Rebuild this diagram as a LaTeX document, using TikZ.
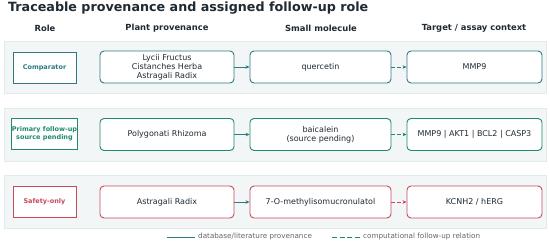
\documentclass[tikz,border=0pt]{standalone}
\usepackage{fontspec}
\setmainfont{DejaVu Sans}
\usetikzlibrary{arrows.meta}
\definecolor{teal1}{HTML}{2E7A84}
\definecolor{green1}{HTML}{1F8A6C}
\definecolor{red1}{HTML}{C64A5C}
\definecolor{band}{HTML}{F2F6F7}
\definecolor{bandline}{HTML}{E2EAEC}
\definecolor{ink}{HTML}{1F2A33}
\tikzset{
  bandbox/.style={fill=band,draw=bandline,line width=0.5pt},
  rolebox/.style={draw=#1,fill=white,line width=0.9pt,minimum width=63pt,minimum height=31pt,inner sep=0pt,align=center,font=\fontsize{6.5}{7.6}\selectfont\bfseries,text=#1},
  itembox/.style={draw=#1,fill=white,line width=0.9pt,rounded corners=4pt,minimum height=32pt,inner sep=0pt,align=center,font=\fontsize{8}{8.8}\selectfont,text=ink},
  hdr/.style={font=\fontsize{8.4}{9.5}\selectfont\bfseries,text=ink},
  prov/.style={draw=teal1,line width=0.9pt,-{Stealth[length=4pt,width=3.5pt]}},
  comp/.style={draw=#1,line width=0.9pt,dash pattern=on 4pt off 2pt,-{Stealth[length=4pt,width=3.5pt]}},
  legtext/.style={font=\fontsize{7.2}{8.2}\selectfont,text=gray!80!black,anchor=west,inner sep=0pt}
}
\begin{document}
\begin{tikzpicture}[x=1pt,y=-1pt]
\useasboundingbox[fill=white] (0,0) rectangle (550,245);
\node[anchor=west,inner sep=0pt,font=\fontsize{12.7}{15}\selectfont\bfseries,text=ink] (title) at (8,8.5) {Traceable provenance and assigned follow-up role};
\node[hdr] (h1) at (45,28) {Role};
\node[hdr] (h2) at (167,28) {Plant provenance};
\node[hdr] (h3) at (321,28) {Small molecule};
\node[hdr] (h4) at (474,28) {Target / assay context};
% bands
\draw[bandbox] (4,41) rectangle (546,93);
\draw[bandbox] (4,108) rectangle (546,161);
\draw[bandbox] (4,175) rectangle (546,228);
% row 1
\node[rolebox=teal1] (r1) at (44.5,67.5) {Comparator};
\node[itembox=teal1,minimum width=134pt] (p1) at (167,67) {Lycii Fructus\\Cistanches Herba\\Astragali Radix};
\node[itembox=teal1,minimum width=141pt] (m1) at (320.5,67) {quercetin};
\node[itembox=teal1,minimum width=135pt] (t1) at (474.5,67) {MMP9};
\draw[prov] (p1) -- (m1);
\draw[comp=teal1] (m1) -- (t1);
% row 2
\node[rolebox=green1] (r2) at (44.5,134) {Primary follow-up\\source pending};
\node[itembox=green1,minimum width=134pt] (p2) at (167,134.5) {Polygonati Rhizoma};
\node[itembox=green1,minimum width=141pt] (m2) at (320.5,134.5) {baicalein\\(source pending)};
\node[itembox=green1,minimum width=135pt] (t2) at (474.5,134.5) {MMP9 | AKT1 | BCL2 | CASP3};
\draw[prov] (p2) -- (m2);
\draw[comp=green1] (m2) -- (t2);
% row 3
\node[rolebox=red1] (r3) at (44.5,201.5) {Safety-only};
\node[itembox=red1,minimum width=134pt] (p3) at (167,202) {Astragali Radix};
\node[itembox=red1,minimum width=141pt] (m3) at (320.5,202) {7-O-methylisomucronulatol};
\node[itembox=red1,minimum width=135pt] (t3) at (474.5,202) {KCNH2 / hERG};
\draw[prov] (p3) -- (m3);
\draw[comp=red1] (m3) -- (t3);
% legend
\coordinate (la) at (167,237);
\coordinate (lb) at (195,237);
\draw[draw=teal1,line width=0.9pt] (la) -- (lb);
\node[legtext] (lt1) at (198,237) {database/literature provenance};
\coordinate (lc) at (332,237);
\coordinate (ld) at (360,237);
\draw[draw=green1,line width=0.9pt,dash pattern=on 5pt off 2.5pt] (lc) -- (ld);
\node[legtext] (lt2) at (363,237) {computational follow-up relation};
\end{tikzpicture}
\end{document}
